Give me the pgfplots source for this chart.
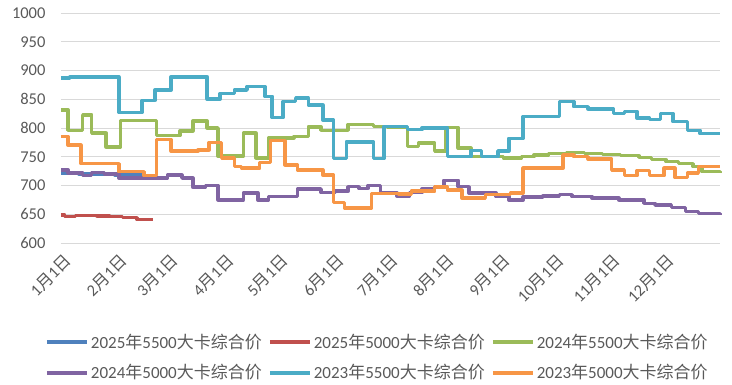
\documentclass[border=0pt]{standalone}
\usepackage{pgfplots}
\pgfplotsset{compat=1.18}
\usepackage{fontspec}
\setmainfont{Carlito}
\newfontfamily\cjk{Noto Sans CJK SC}
\definecolor{cA}{HTML}{4F81BD}
\definecolor{cB}{HTML}{C0504D}
\definecolor{cC}{HTML}{9BBB59}
\definecolor{cD}{HTML}{8064A2}
\definecolor{cE}{HTML}{4BACC6}
\definecolor{cF}{HTML}{F79646}
\definecolor{txt}{HTML}{595959}
\begin{document}
\begin{tikzpicture}
\begin{axis}[
  scale only axis, width=659pt, height=230pt,
  xmin=0, xmax=365, ymin=600, ymax=1000,
  ytick={600,650,...,1000},
  xtick={0,31,59,90,120,151,181,212,243,273,304,334},
  xticklabels={1{\cjk 月}1{\cjk 日},2{\cjk 月}1{\cjk 日},3{\cjk 月}1{\cjk 日},4{\cjk 月}1{\cjk 日},5{\cjk 月}1{\cjk 日},6{\cjk 月}1{\cjk 日},7{\cjk 月}1{\cjk 日},8{\cjk 月}1{\cjk 日},9{\cjk 月}1{\cjk 日},10{\cjk 月}1{\cjk 日},11{\cjk 月}1{\cjk 日},12{\cjk 月}1{\cjk 日}},
  xticklabel style={rotate=45, anchor=north east, font=\fontsize{16.5}{16.5}\selectfont, text=txt, yshift=-5pt, xshift=-2pt},
  yticklabel style={font=\fontsize{16.5}{16.5}\selectfont, text=txt, xshift=-12pt},
  /pgf/number format/assume math mode=true,
  /pgf/number format/set thousands separator={},
  ymajorgrids, major grid style={draw=black!15, line width=0.9pt},
  axis line style={draw=none}, tick style={draw=none},
  clip=false,
  every axis plot/.append style={line width=3.5pt, const plot, line join=round},
  legend columns=3,
  legend style={at={(0.48,-0.496)}, anchor=center, draw=none, fill=none,
    font=\fontsize{17}{17}\selectfont, text=txt, row sep=11pt,
    /tikz/every even column/.append style={column sep=4pt}},
  legend image code/.code={\draw[#1, line width=4pt] (0pt,0pt) -- (40pt,0pt);},
]
\coordinate (bl) at (rel axis cs:0,0);
\coordinate (tr) at (rel axis cs:1,1);
\addplot[cA] coordinates {(0,722) (10,720) (20,719) (30,718) (45,717) (51,717)};
\addlegendentry{2025{\cjk 年}5500{\cjk 大卡综合价}}
\addplot[cB] coordinates {(0,649) (2,646) (8,648) (20,647) (27,646) (34,644) (42,641) (51,641)};
\addlegendentry{2025{\cjk 年}5000{\cjk 大卡综合价}}
\addplot[cC] coordinates {(0,831) (4,796) (12,823) (17,791) (25,767) (33,813) (53,787) (66,795) (73,812) (81,800) (87,751) (101,791) (108,748) (115,783) (129,785) (137,802) (144,796) (159,806) (173,803) (181,801) (192,768) (198,774) (207,760) (213,801) (220,765) (227,750) (245,748) (255,750) (262,753) (270,756) (280,757) (290,756) (300,754) (310,752) (320,749) (327,745) (335,742) (342,738) (350,733) (355,724) (365,722)};
\addlegendentry{2024{\cjk 年}5500{\cjk 大卡综合价}}
\addplot[cD] coordinates {(0,727) (4,722) (12,717) (17,723) (24,720) (32,713) (59,718) (67,713) (73,697) (80,700) (87,675) (101,687) (109,675) (115,681) (131,694) (144,688) (152,690) (159,698) (165,695) (170,700) (177,687) (186,682) (193,688) (200,694) (207,697) (212,709) (220,698) (226,687) (241,681) (248,675) (256,680) (267,682) (276,684) (283,681) (294,678) (309,675) (323,669) (329,666) (338,662) (346,655) (353,651) (365,650)};
\addlegendentry{2024{\cjk 年}5000{\cjk 大卡综合价}}
\addplot[cE] coordinates {(0,887) (5,889) (32,827) (45,848) (52,866) (61,889) (81,850) (88,860) (96,866) (103,872) (113,855) (117,818) (123,846) (130,852) (137,840) (145,814) (151,747) (158,776) (173,747) (179,803) (192,797) (200,800) (214,750) (227,761) (233,750) (242,760) (248,782) (256,820) (276,846) (284,837) (292,833) (306,825) (312,829) (319,817) (326,815) (332,825) (339,811) (347,796) (354,790) (365,790)};
\addlegendentry{2023{\cjk 年}5500{\cjk 大卡综合价}}
\addplot[cF] coordinates {(0,785) (4,770) (11,738) (32,724) (46,717) (53,780) (61,760) (76,762) (82,775) (89,748) (96,733) (100,730) (110,740) (116,778) (124,736) (131,727) (145,718) (151,670) (157,661) (172,686) (187,685) (194,690) (207,697) (214,692) (222,678) (235,684) (249,687) (256,730) (278,753) (284,750) (292,746) (305,727) (312,717) (319,726) (326,717) (334,730) (340,714) (347,722) (353,733) (365,733)};
\addlegendentry{2023{\cjk 年}5000{\cjk 大卡综合价}}
\end{axis}
\path[use as bounding box] ([shift={(-61pt,-142pt)}]bl) rectangle ([shift={(12pt,13pt)}]tr);
\end{tikzpicture}
\end{document}
